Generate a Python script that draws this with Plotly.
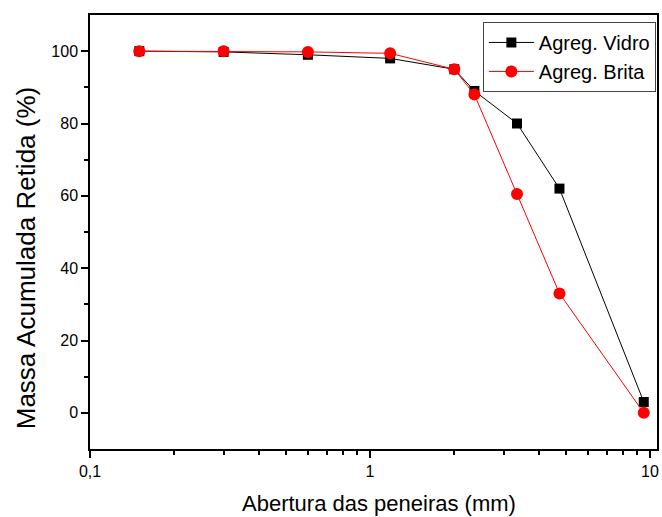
import plotly.graph_objects as go

abertura = [0.15, 0.3, 0.6, 1.18, 2.0, 2.36, 3.35, 4.75, 9.5]
vidro = [100, 99.8, 99, 98, 95, 89, 80, 62, 3]
brita = [100, 100, 99.8, 99.4, 95, 88, 60.5, 33, 0]

fig = go.Figure()
fig.add_trace(go.Scatter(x=abertura, y=vidro, mode="lines+markers", name="Agreg. Vidro",
                         line=dict(color="black", width=1),
                         marker=dict(symbol="square", size=10, color="black")))
fig.add_trace(go.Scatter(x=abertura, y=brita, mode="lines+markers", name="Agreg. Brita",
                         line=dict(color="#ff0000", width=1),
                         marker=dict(symbol="circle", size=12, color="#ff0000")))

minor_x = [0.2, 0.3, 0.4, 0.5, 0.6, 0.7, 0.8, 0.9, 2, 3, 4, 5, 6, 7, 8, 9]
fig.update_layout(
    width=662, height=517,
    margin=dict(l=90, r=3, t=15, b=68),
    plot_bgcolor="white", paper_bgcolor="white",
    font=dict(family="Liberation Sans, Arial, sans-serif", color="black"),
    showlegend=True,
    legend=dict(x=0.998, xanchor="right", y=0.984, yanchor="top",
                bordercolor="#444", borderwidth=1, bgcolor="white",
                font=dict(size=20), tracegroupgap=0, itemwidth=45),
    xaxis=dict(type="log", range=[-1, 1.025],
               tickvals=[0.1, 1, 10], ticktext=["0,1", "1", "10"],
               ticks="outside", ticklen=7, tickwidth=1.5, tickcolor="black",
               showline=True, linecolor="black", linewidth=1.5, mirror=True,
               showgrid=False, zeroline=False,
               tickfont=dict(size=16),
               minor=dict(tickvals=minor_x, ticks="outside", ticklen=4, tickcolor="black", showgrid=False)),
    yaxis=dict(range=[-10, 110],
               tickvals=[0, 20, 40, 60, 80, 100],
               ticks="outside", ticklen=7, tickwidth=1.5, tickcolor="black",
               showline=True, linecolor="black", linewidth=1.5, mirror=True,
               showgrid=False, zeroline=False,
               tickfont=dict(size=16),
               minor=dict(tickvals=[10, 30, 50, 70, 90], ticks="outside", ticklen=4, tickcolor="black", showgrid=False)),
    annotations=[
        dict(text="Abertura das peneiras (mm)", xref="paper", yref="paper",
             x=0.51, y=-0.125, xanchor="center", yanchor="middle",
             showarrow=False, font=dict(size=22)),
        dict(text="Massa Acumulada Retida (%)", xref="paper", yref="paper",
             x=-0.1125, y=0.44, xanchor="center", yanchor="middle", textangle=-90,
             showarrow=False, font=dict(size=26)),
    ],
)

fig.write_html("out.html")
